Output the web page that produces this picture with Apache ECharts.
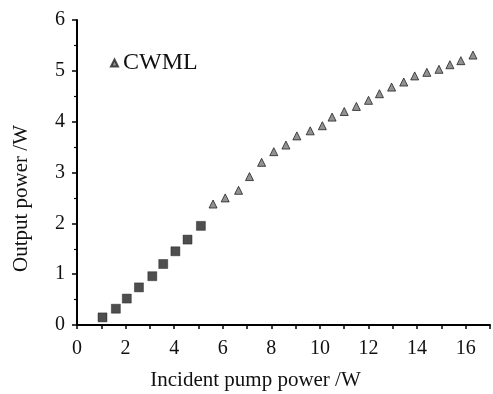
<!DOCTYPE html>
<html>
<head>
<meta charset="utf-8">
<script src="https://cdn.jsdelivr.net/npm/echarts@6/dist/echarts.min.js"></script>
<style>html,body{margin:0;padding:0;background:#fff}#c{width:493px;height:394px}</style>
</head>
<body>
<div id="c"></div>
<script>
// Continuous-wave (square markers) region
const cwX = [1.05, 1.6, 2.05, 2.55, 3.1, 3.55, 4.05, 4.55, 5.1];
const cwY = [0.15, 0.32, 0.52, 0.74, 0.96, 1.20, 1.45, 1.68, 1.95];
// CWML (triangle markers)
const cwmlX = [5.6, 6.1, 6.65, 7.1, 7.6, 8.1, 8.6, 9.05, 9.6, 10.1, 10.5, 11.0, 11.5, 12.0, 12.45, 12.95, 13.45, 13.9, 14.4, 14.9, 15.35, 15.8, 16.3];
const cwmlY = [2.38, 2.50, 2.65, 2.92, 3.20, 3.41, 3.54, 3.72, 3.82, 3.92, 4.09, 4.20, 4.30, 4.42, 4.55, 4.68, 4.78, 4.90, 4.97, 5.03, 5.12, 5.20, 5.31];
const legendNames = ['CWML'];
const xTitle = 'Incident pump power /W';
const yTitle = 'Output power /W';

const font = 'Liberation Serif, Times New Roman, serif';
const chart = echarts.init(document.getElementById('c'));
chart.setOption({
  animation: false,
  grid: {left: 77, right: 3, top: 20, bottom: 69, containLabel: false, outerBoundsMode: 'none'},
  legend: {
    data: legendNames, left: 105, top: 46, itemWidth: 7, itemHeight: 7, itemGap: 13,
    textStyle: {fontFamily: font, fontSize: 24, color: '#111'}
  },
  xAxis: {
    type: 'value', min: 0, max: 17, interval: 1,
    name: xTitle, nameLocation: 'middle', nameGap: 45,
    nameTextStyle: {fontFamily: font, fontSize: 21, color: '#111', padding: [0, 56, 0, 0]},
    axisLine: {show: true, onZero: false, lineStyle: {color: '#000', width: 2}},
    axisTick: {show: true, inside: false, length: 4, lineStyle: {color: '#000', width: 1.5}},
    axisLabel: {fontFamily: font, fontSize: 20, color: '#111', margin: 14,
      formatter: v => (v % 2 === 0 && v <= 16) ? String(v) : ''},
    splitLine: {show: false}
  },
  yAxis: {
    type: 'value', min: 0, max: 6, interval: 1,
    name: yTitle, nameLocation: 'middle', nameGap: 45, nameRotate: 90,
    nameTextStyle: {fontFamily: font, fontSize: 21, color: '#111', padding: [0, 52, 0, 0]},
    axisLine: {show: true, onZero: false, lineStyle: {color: '#000', width: 2}},
    axisTick: {show: true, inside: false, length: 5, lineStyle: {color: '#000', width: 1.5}},
    minorTick: {show: true, splitNumber: 2, length: 3, lineStyle: {color: '#000', width: 1.2}},
    axisLabel: {fontFamily: font, fontSize: 20, color: '#111', margin: 12},
    splitLine: {show: false}
  },
  series: [
    {
      name: 'CW', type: 'scatter', symbol: 'rect', symbolSize: 9,
      itemStyle: {color: '#222', borderColor: '#111', borderWidth: 0.5},
      data: cwX.map((x, i) => [x, cwY[i]])
    },
    {
      name: 'CWML', type: 'scatter', symbol: 'triangle', symbolSize: 8,
      itemStyle: {color: '#777', borderColor: '#222', borderWidth: 1},
      data: cwmlX.map((x, i) => [x, cwmlY[i]])
    }
  ]
});
</script>
</body>
</html>
